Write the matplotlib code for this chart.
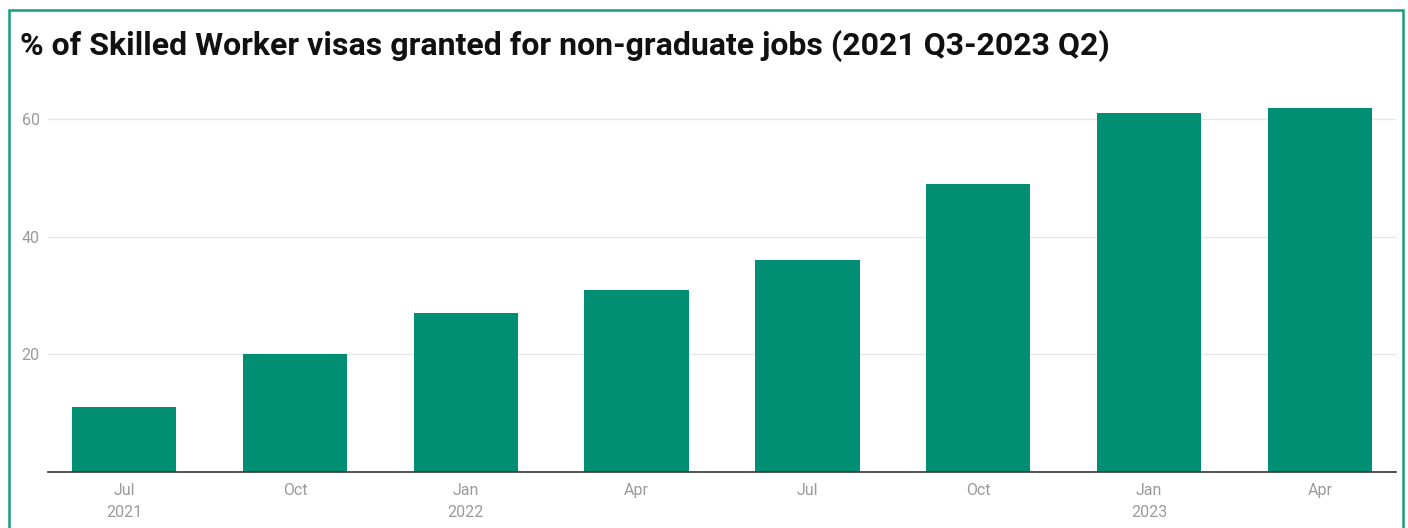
import matplotlib.pyplot as plt
from matplotlib.patches import Rectangle

# data
quarters = ["Jul\n2021", "Oct", "Jan\n2022", "Apr", "Jul", "Oct", "Jan\n2023", "Apr"]
pct_non_graduate = [11, 20, 27, 31, 36, 49, 61, 62]
y_ticks = [20, 40, 60]

BAR_COLOR = "#008f73"
BORDER_COLOR = "#189c7c"
TICK_COLOR = "#9a9a9a"

plt.rcParams["font.family"] = ["Roboto", "DejaVu Sans"]

W, H = 1408, 528
fig = plt.figure(figsize=(W / 100, H / 100), dpi=100)

# green frame round the chart (bottom edge is cut off in the reference)
fig.patches.append(Rectangle((9 / W, -0.05), (1403 - 9) / W, 1.05 - 10 / H,
                             transform=fig.transFigure, fill=False,
                             edgecolor=BORDER_COLOR, linewidth=1.8))

fig.text(20 / W, 1 - 46 / H,
         "% of Skilled Worker visas granted for non-graduate jobs (2021 Q3-2023 Q2)",
         fontsize=23, fontweight="bold", color="#111111", va="center", ha="left")

ax = fig.add_axes([48 / W, 1 - 472 / H, (1396 - 48) / W, (472 - 84) / H])
x = list(range(len(quarters)))
ax.bar(x, pct_non_graduate, width=0.61, color=BAR_COLOR, zorder=3)

ax.set_xlim(-0.445, len(quarters) - 1 + 0.445)
ax.set_ylim(0, 66)
ax.set_yticks(y_ticks)
ax.set_xticks(x)
ax.set_xticklabels(quarters, linespacing=1.55)

ax.grid(axis="y", color="#e6e6e6", linewidth=1, zorder=0)
for side in ["top", "right", "left"]:
    ax.spines[side].set_visible(False)
ax.spines["bottom"].set_color("#333333")
ax.spines["bottom"].set_linewidth(1.2)
ax.spines["bottom"].set_zorder(4)

ax.tick_params(axis="both", length=0, labelsize=11.5, labelcolor=TICK_COLOR)
ax.tick_params(axis="x", pad=8)
ax.tick_params(axis="y", pad=6)

fig.savefig("out.png", dpi=100)
